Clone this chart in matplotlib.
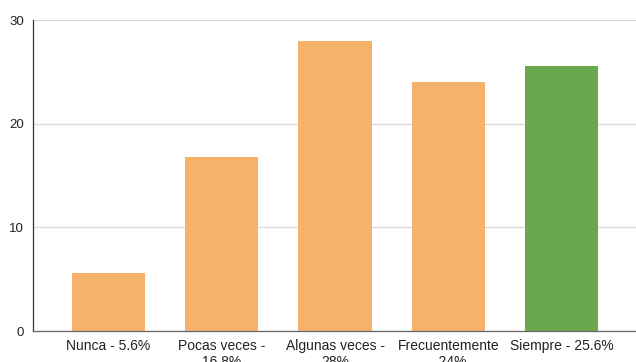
import matplotlib
matplotlib.use("Agg")
import matplotlib.pyplot as plt

# Respuestas por categoría (porcentaje)
categorias = ["Nunca - 5.6%", "Pocas veces -\n16.8%", "Algunas veces -\n28%",
              "Frecuentemente\n- 24%", "Siempre - 25.6%"]
valores = [5.6, 16.8, 28, 24, 25.6]
colores = ["#F6B26B", "#F6B26B", "#F6B26B", "#F6B26B", "#6AA84F"]
yticks = [0, 10, 20, 30]

plt.rcParams["font.family"] = ["Liberation Sans", "DejaVu Sans"]

fig = plt.figure(figsize=(6.36, 3.62), dpi=100)
ax = fig.add_axes([33 / 636, 31 / 362, 603 / 636, 311 / 362])

x = list(range(len(valores)))
ax.bar(x, valores, width=0.645, color=colores, zorder=3)

ax.set_xlim(-0.667, 4.658)
ax.set_ylim(0, 30)
ax.set_yticks(yticks)
ax.set_xticks(x)
ax.set_xticklabels(categorias, fontsize=10, color="#222222", linespacing=1.2,
                   va="top")
ax.tick_params(axis="x", length=0, pad=5.5)
ax.tick_params(axis="y", length=0, pad=6.5, labelsize=9.5, labelcolor="#222222")

ax.grid(axis="y", color="#d9d9d9", linewidth=0.9, zorder=0)
for lado in ("top", "right"):
    ax.spines[lado].set_visible(False)
ax.spines["left"].set_color("#333333")
ax.spines["left"].set_linewidth(0.9)
ax.spines["bottom"].set_color("#666666")
ax.spines["bottom"].set_linewidth(0.9)
ax.spines["bottom"].set_zorder(4)

fig.savefig("out.png", dpi=100)
